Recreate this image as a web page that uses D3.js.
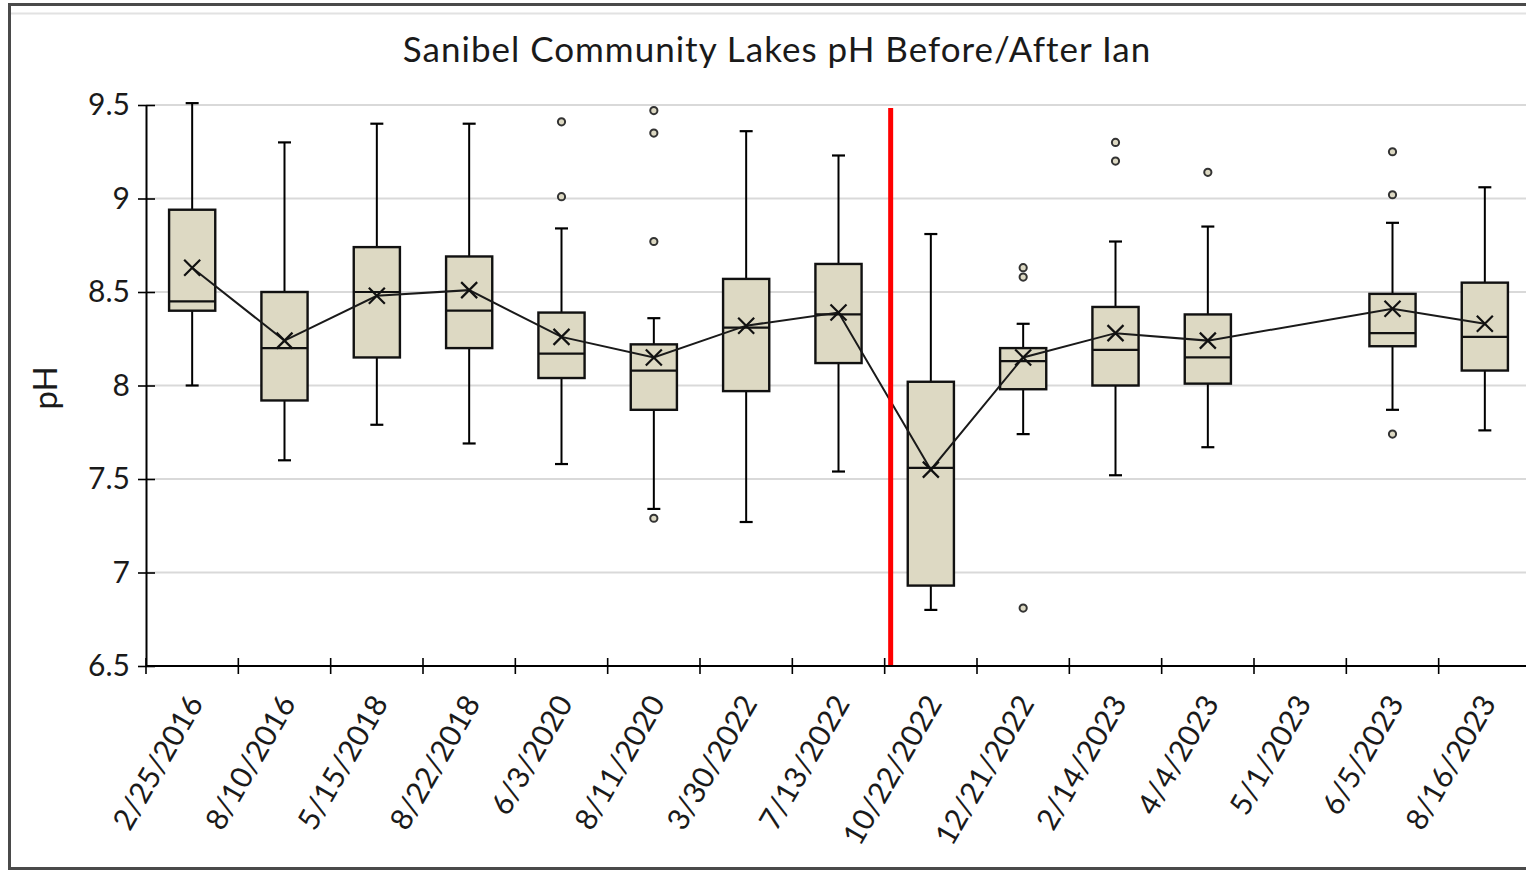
<!DOCTYPE html>
<html>
<head>
<meta charset="utf-8">
<script src="https://cdn.jsdelivr.net/npm/d3@7"></script>
<style>
  html, body { margin: 0; padding: 0; background: #fff; }
  svg { display: block; font-family: Lato, "Open Sans", sans-serif; }
</style>
</head>
<body>
<svg id="chart" width="1526" height="871"></svg>
<script>
// Sampling dates (one box per date)
const categories = ["2/25/2016", "8/10/2016", "5/15/2018", "8/22/2018", "6/3/2020", "8/11/2020",
  "3/30/2022", "7/13/2022", "10/22/2022", "12/21/2022", "2/14/2023", "4/4/2023", "5/1/2023",
  "6/5/2023", "8/16/2023"];

// Box-plot statistics per date (null = no samples)
const whiskerLow  = [8.00, 7.60, 7.79, 7.69, 7.58, 7.34, 7.27, 7.54, 6.80, 7.74, 7.52, 7.67, null, 7.87, 7.76];
const q1          = [8.40, 7.92, 8.15, 8.20, 8.04, 7.87, 7.97, 8.12, 6.93, 7.98, 8.00, 8.01, null, 8.21, 8.08];
const median      = [8.45, 8.20, 8.50, 8.40, 8.17, 8.08, 8.31, 8.38, 7.56, 8.13, 8.19, 8.15, null, 8.28, 8.26];
const q3          = [8.94, 8.50, 8.74, 8.69, 8.39, 8.22, 8.57, 8.65, 8.02, 8.20, 8.42, 8.38, null, 8.49, 8.55];
const whiskerHigh = [9.51, 9.30, 9.40, 9.40, 8.84, 8.36, 9.36, 9.23, 8.81, 8.33, 8.77, 8.85, null, 8.87, 9.06];
const mean        = [8.63, 8.24, 8.48, 8.51, 8.26, 8.15, 8.32, 8.39, 7.55, 8.15, 8.28, 8.24, null, 8.41, 8.33];
const outliers = [[], [], [], [], [9.41, 9.01], [9.47, 9.35, 8.77, 7.29], [], [], [],
  [8.63, 8.58, 6.81], [9.30, 9.20], [9.14], [], [9.25, 9.02, 7.74], []];

// Y axis ticks
const yTicks = [6.5, 7, 7.5, 8, 8.5, 9, 9.5];
const yTickLabels = ["6.5", "7", "7.5", "8", "8.5", "9", "9.5"];

// Hurricane Ian landfall falls between these two sampling dates
const ianAfter = "7/13/2022";

const chartTitle = "Sanibel Community Lakes pH Before/After Ian";
const yTitle = "pH";

const svg = d3.select("#chart");
const W = 1526, H = 871;
const plotL = 146, plotR = 1531, plotT = 105, plotB = 666;

const x = d3.scaleBand().domain(categories).range([plotL, plotR]).paddingInner(0).paddingOuter(0);
const y = d3.scaleLinear().domain([6.5, 9.5]).range([plotB, plotT]);

const boxFill = "#ddd9c3";
const boxW = x.bandwidth() * 0.5;
const capW = 13;

// Outer frame
svg.append("rect").attr("x", 0).attr("y", 0).attr("width", W).attr("height", H).attr("fill", "#fff");
svg.append("line").attr("x1", 11).attr("x2", W).attr("y1", 13.5).attr("y2", 13.5)
  .attr("stroke", "#e2e2e2").attr("stroke-width", 2);
svg.append("rect").attr("x", 9.5).attr("y", 4.5).attr("width", W + 20).attr("height", 864)
  .attr("fill", "none").attr("stroke", "#4a4a4a").attr("stroke-width", 3);

// Title
svg.append("text").attr("x", 777).attr("y", 62).attr("text-anchor", "middle")
  .attr("font-size", 35).attr("letter-spacing", 1).attr("fill", "#1a1a1a").text(chartTitle);

// Gridlines
svg.append("g").selectAll("line").data(yTicks.filter(t => t > 6.5)).join("line")
  .attr("x1", plotL).attr("x2", W).attr("y1", d => y(d)).attr("y2", d => y(d))
  .attr("stroke", "#d9d9d9").attr("stroke-width", 2);

// Y axis
const yAxis = d3.axisLeft(y).tickValues(yTicks).tickFormat((d, i) => yTickLabels[i]).tickSizeInner(8).tickSizeOuter(0).tickPadding(8);
const gy = svg.append("g").attr("transform", `translate(${plotL},0)`).call(yAxis);
gy.select(".domain").attr("stroke", "#000").attr("stroke-width", 2);
gy.selectAll(".tick line").attr("stroke", "#000").attr("stroke-width", 1.6).attr("x2", 9).attr("x1", -8);
gy.selectAll(".tick text").attr("font-size", 30).attr("fill", "#1a1a1a").attr("font-family", "Lato, sans-serif").attr("x", -16);

// Y title
svg.append("text").attr("transform", `translate(57,388) rotate(-90)`).attr("text-anchor", "middle")
  .attr("font-size", 33).attr("fill", "#1a1a1a").text(yTitle);

// Boxes
const stats = categories.map((c, i) => ({
  cat: c, lo: whiskerLow[i], q1: q1[i], med: median[i], q3: q3[i], hi: whiskerHigh[i],
  mean: mean[i], out: outliers[i]
}));
const filled = stats.filter(d => d.med !== null);
const cx = d => x(d.cat) + x.bandwidth() / 2;

const g = svg.append("g");
// whiskers
g.selectAll(".wh").data(filled).join("line").attr("class", "wh")
  .attr("x1", cx).attr("x2", cx).attr("y1", d => y(d.q3)).attr("y2", d => y(d.hi))
  .attr("stroke", "#000").attr("stroke-width", 2);
g.selectAll(".wl").data(filled).join("line").attr("class", "wl")
  .attr("x1", cx).attr("x2", cx).attr("y1", d => y(d.q1)).attr("y2", d => y(d.lo))
  .attr("stroke", "#000").attr("stroke-width", 2);
g.selectAll(".ch").data(filled).join("line").attr("class", "ch")
  .attr("x1", d => cx(d) - capW / 2).attr("x2", d => cx(d) + capW / 2)
  .attr("y1", d => y(d.hi)).attr("y2", d => y(d.hi)).attr("stroke", "#000").attr("stroke-width", 2.2);
g.selectAll(".cl").data(filled).join("line").attr("class", "cl")
  .attr("x1", d => cx(d) - capW / 2).attr("x2", d => cx(d) + capW / 2)
  .attr("y1", d => y(d.lo)).attr("y2", d => y(d.lo)).attr("stroke", "#000").attr("stroke-width", 2.2);
// box
g.selectAll(".box").data(filled).join("rect").attr("class", "box")
  .attr("x", d => cx(d) - boxW / 2).attr("width", boxW)
  .attr("y", d => y(d.q3)).attr("height", d => y(d.q1) - y(d.q3))
  .attr("fill", boxFill).attr("stroke", "#111").attr("stroke-width", 2.4);
// median
g.selectAll(".med").data(filled).join("line").attr("class", "med")
  .attr("x1", d => cx(d) - boxW / 2).attr("x2", d => cx(d) + boxW / 2)
  .attr("y1", d => y(d.med)).attr("y2", d => y(d.med)).attr("stroke", "#111").attr("stroke-width", 2.2);

// outliers
const outPts = stats.flatMap(d => d.out.map(v => ({ cat: d.cat, v })));
g.selectAll(".out").data(outPts).join("circle").attr("class", "out")
  .attr("cx", cx).attr("cy", d => y(d.v)).attr("r", 3.6)
  .attr("fill", boxFill).attr("stroke", "#333").attr("stroke-width", 2);

// Mean line and markers
const meanPts = filled.filter(d => d.mean !== null);
g.append("path").datum(meanPts)
  .attr("d", d3.line().x(cx).y(d => y(d.mean)))
  .attr("fill", "none").attr("stroke", "#1a1a1a").attr("stroke-width", 2);
const ms = 8;
g.selectAll(".mk").data(meanPts).join("path").attr("class", "mk")
  .attr("d", d => {
    const px = cx(d), py = y(d.mean);
    return `M${px - ms},${py - ms}L${px + ms},${py + ms}M${px - ms},${py + ms}L${px + ms},${py - ms}`;
  })
  .attr("stroke", "#111").attr("stroke-width", 2.2).attr("fill", "none");

// Ian divider
const ianX = x(ianAfter) + x.bandwidth() + 6;
svg.append("line").attr("x1", ianX).attr("x2", ianX).attr("y1", 108).attr("y2", plotB)
  .attr("stroke", "#ff0000").attr("stroke-width", 5);

// X axis
const xAxis = d3.axisBottom(x).tickSize(0).tickFormat(d => d);
const gx = svg.append("g").attr("transform", `translate(0,${plotB})`).call(xAxis);
gx.select(".domain").remove();
gx.append("line").attr("x1", plotL).attr("x2", W).attr("y1", 0).attr("y2", 0)
  .attr("stroke", "#000").attr("stroke-width", 2.2);
const bounds = categories.map(c => x(c)).concat([plotR]);
gx.selectAll(".xt").data(bounds).join("line").attr("class", "xt")
  .attr("x1", d => d).attr("x2", d => d).attr("y1", -8).attr("y2", 8)
  .attr("stroke", "#000").attr("stroke-width", 1.6);
gx.selectAll(".tick text")
  .attr("font-size", 30).attr("fill", "#1a1a1a").attr("font-family", "Lato, sans-serif")
  .attr("text-anchor", "end").attr("x", 0).attr("y", 0).attr("dy", "0.35em")
  .attr("transform", "translate(3,32) rotate(-60)");
</script>
</body>
</html>
